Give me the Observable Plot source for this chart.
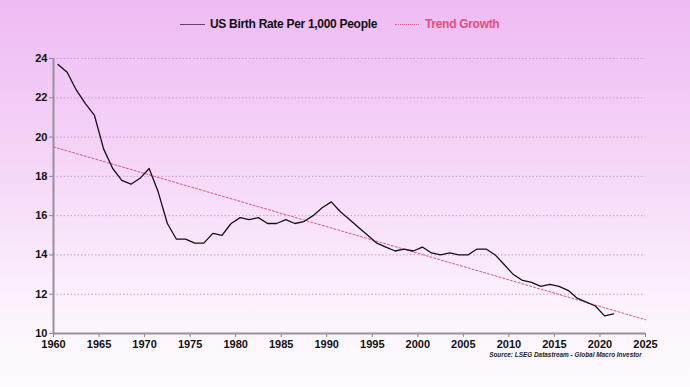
<!DOCTYPE html>
<html><head><meta charset="utf-8">
<script src="https://cdn.jsdelivr.net/npm/d3@7"></script>
<script src="https://cdn.jsdelivr.net/npm/@observablehq/plot@0.6"></script>
<style>
html,body{margin:0;padding:0;}
#wrap{position:relative;width:690px;height:387px;overflow:hidden;
 background:linear-gradient(to bottom,#eebbf4 0%,#f6d8f8 45%,#fcf3fd 80%,#fefbfe 100%);
 font-family:"Liberation Sans",Arial,sans-serif;}
#legend{position:absolute;left:0;top:0;width:690px;height:45px;}
.lg{position:absolute;top:17px;font-weight:bold;font-size:12px;letter-spacing:-0.3px;white-space:nowrap;}
#chart{position:absolute;left:0;top:45px;}
#src{position:absolute;right:48px;top:350px;font-size:8px;font-style:italic;font-weight:bold;color:#222;transform:scaleX(0.8);transform-origin:right center;white-space:nowrap;}
</style></head>
<body><div id="wrap">
<div id="legend">
 <div style="position:absolute;left:180px;top:24px;width:25px;height:0;border-top:1.5px solid #6a3a72;"></div>
 <div class="lg" style="left:210px;color:#111;">US Birth Rate Per 1,000 People</div>
 <div style="position:absolute;left:395px;top:24px;width:24px;height:0;border-top:1.5px dotted #e0608a;"></div>
 <div class="lg" style="left:425px;color:#e0507a;">Trend Growth</div>
</div>
<div id="chart"></div>
<div id="src">Source: LSEG Datastream - Global Macro Investor</div>
</div>
<script>
const years = [1960,1961,1962,1963,1964,1965,1966,1967,1968,1969,1970,1971,1972,1973,1974,1975,1976,1977,1978,1979,1980,1981,1982,1983,1984,1985,1986,1987,1988,1989,1990,1991,1992,1993,1994,1995,1996,1997,1998,1999,2000,2001,2002,2003,2004,2005,2006,2007,2008,2009,2010,2011,2012,2013,2014,2015,2016,2017,2018,2019,2020,2021];
const birthRate = [23.7,23.3,22.4,21.7,21.1,19.4,18.4,17.8,17.6,17.9,18.4,17.2,15.6,14.8,14.8,14.6,14.6,15.1,15.0,15.6,15.9,15.8,15.9,15.6,15.6,15.8,15.6,15.7,16.0,16.4,16.7,16.2,15.8,15.4,15.0,14.6,14.4,14.2,14.3,14.2,14.4,14.1,14.0,14.1,14.0,14.0,14.3,14.3,14.0,13.5,13.0,12.7,12.6,12.4,12.5,12.4,12.2,11.8,11.6,11.4,10.9,11.0];
const trendYears = [1960, 2025];
const trendValues = [19.5, 10.7];
const yTicks = [10,12,14,16,18,20,22,24];
const xTicks = [1960,1965,1970,1975,1980,1985,1990,1995,2000,2005,2010,2015,2020,2025];

const series = years.map((y,i)=>({x:y+0.5, v:birthRate[i]}));
const trend = trendYears.map((y,i)=>({x:y, v:trendValues[i]}));

const chart = Plot.plot({
  width:690, height:342,
  marginLeft:53, marginRight:45, marginTop:13, marginBottom:54,
  style:{background:"transparent", fontFamily:"Liberation Sans, Arial, sans-serif", fontSize:"11px", fontWeight:"bold", color:"#111"},
  x:{domain:[1960,2025], ticks:xTicks, tickFormat:d=>String(d), label:null, tickSize:4},
  y:{domain:[10,24], ticks:yTicks, label:null, tickSize:4},
  marks:[
    Plot.ruleY(yTicks.filter(d=>d>10), {stroke:"#c8a0cc", strokeWidth:1, strokeDasharray:"1.5,2"}),
    Plot.axisY({ticks:yTicks, tickSize:4, stroke:"#888", fontWeight:"bold", tickPadding:2}),
    Plot.axisX({ticks:xTicks, tickSize:4, stroke:"#888", tickFormat:d=>String(d), fontWeight:"bold", tickPadding:3}),
    Plot.ruleX([1960], {stroke:"#9a8f9c", strokeWidth:2}),
    Plot.ruleY([10], {stroke:"#9a8f9c", strokeWidth:2}),
    Plot.line(trend, {x:"x", y:"v", stroke:"#d9557f", strokeWidth:1, strokeDasharray:"2,2"}),
    Plot.line(series, {x:"x", y:"v", stroke:"#151015", strokeWidth:1.3})
  ]
});
document.getElementById("chart").appendChild(chart);
</script>
</body></html>
